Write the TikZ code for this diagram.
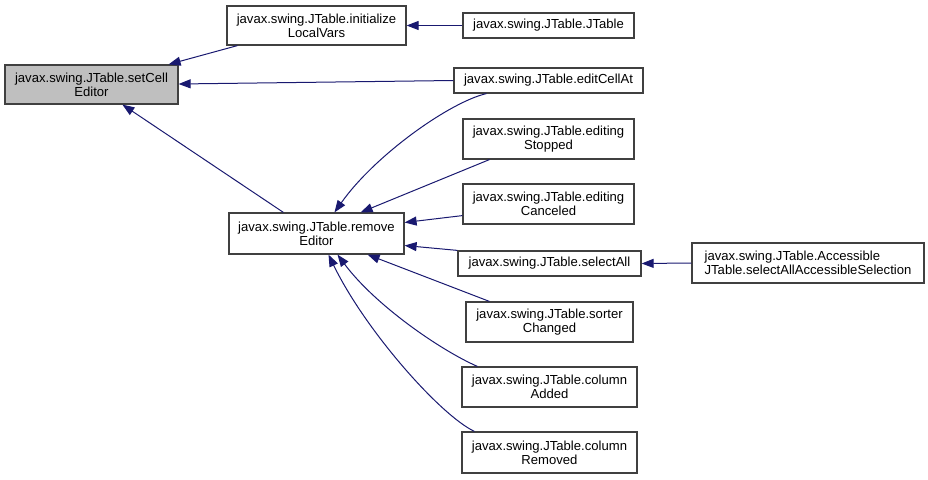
\documentclass[tikz,border=0pt]{standalone}
\usepackage{fontspec}
\setmainfont{Liberation Sans}
\usetikzlibrary{arrows.meta,calc}
\definecolor{edgecol}{HTML}{191970}
\definecolor{boxline}{HTML}{404040}
\definecolor{hl}{HTML}{BFBFBF}
\tikzset{
  fn/.style={draw=boxline, line width=1.2pt, fill=white, inner sep=0pt,
    font=\fontsize{13.1}{14}\selectfont, align=center},
  edge/.style={draw=edgecol, line width=1pt, -{Triangle[length=12pt,width=9pt]}},
}
\begin{document}
\begin{tikzpicture}[x=1pt,y=-1pt]
\useasboundingbox (0,0) rectangle (928,479);
% nodes
\node[fn, fill=hl, minimum width=173pt, minimum height=39pt] (setCell) at (91.5,84.5) {javax.swing.JTable.setCell\\Editor};
\node[fn, minimum width=179pt, minimum height=39pt] (initLV) at (316.5,25.5) {javax.swing.JTable.initialize\\LocalVars};
\node[fn, minimum width=171pt, minimum height=25pt] (jtable) at (548.5,25.5) {javax.swing.JTable.JTable};
\node[fn, minimum width=189pt, minimum height=25pt] (editCellAt) at (548.5,80.5) {javax.swing.JTable.editCellAt};
\node[fn, minimum width=171pt, minimum height=40pt] (stopped) at (548.5,139) {javax.swing.JTable.editing\\Stopped};
\node[fn, minimum width=171pt, minimum height=40pt] (canceled) at (548.5,204) {javax.swing.JTable.editing\\Canceled};
\node[fn, minimum width=175pt, minimum height=41pt] (remove) at (316.5,233.5) {javax.swing.JTable.remove\\Editor};
\node[fn, minimum width=183pt, minimum height=25pt] (selectAll) at (549.5,263.5) {javax.swing.JTable.selectAll};
\node[fn, minimum width=167pt, minimum height=40pt] (sorter) at (549.5,322) {javax.swing.JTable.sorter\\Changed};
\node[fn, minimum width=175pt, minimum height=40pt] (colAdded) at (549.5,387) {javax.swing.JTable.column\\Added};
\node[fn, minimum width=175pt, minimum height=41pt] (colRemoved) at (549.5,452.5) {javax.swing.JTable.column\\Removed};
\node[fn, align=left, minimum width=232pt, minimum height=40pt] (access) at (808,263) {javax.swing.JTable.Accessible\\JTable.selectAllAccessibleSelection};
% edges
\draw[edge] ($(initLV.south west)+(11,0)$) -- ($(setCell.north east)+(-10,0)$);
\draw[edge] (jtable.west) -- (initLV.east);
\draw[edge] (editCellAt.west) -- ($(setCell.east)+(0,-0.5)$);
\draw[edge] ($(remove.north west)+(55,0)$) -- ($(setCell.south west)+(118,0)$);
\draw[edge] ($(editCellAt.south west)+(33,0)$) .. controls (450,102) and (375,155) .. ($(remove.north)+(18,0)$);
\draw[edge] ($(stopped.south west)+(27,0)$) -- ($(remove.north east)+(-44,0)$);
\draw[edge] ($(canceled.south west)+(0,-9)$) -- ($(remove.east)+(0,-11)$);
\draw[edge] (selectAll.north west) -- ($(remove.east)+(0,12)$);
\draw[edge] (access.west) -- (selectAll.east);
\draw[edge] ($(sorter.north west)+(24,0)$) -- ($(remove.south east)+(-37,0)$);
\draw[edge] ($(colAdded.north west)+(16,0)$) .. controls (440,350) and (375,305) .. ($(remove.south)+(21,0)$);
\draw[edge] ($(colRemoved.north west)+(13,0)$) .. controls (440,415) and (365,330) .. ($(remove.south)+(12,0)$);
\end{tikzpicture}
\end{document}
